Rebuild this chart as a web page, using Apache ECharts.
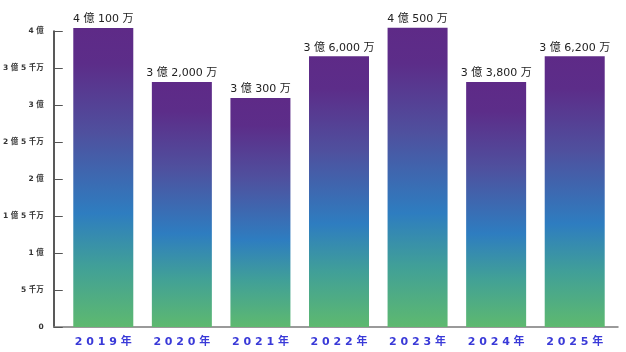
<!DOCTYPE html>
<html>
<head>
<meta charset="utf-8">
<script src="https://cdn.jsdelivr.net/npm/echarts@6/dist/echarts.min.js"></script>
<style>
    html, body { margin: 0; padding: 0; background: #fff; }
    #chart { width: 626px; height: 352px; }
</style>
</head>
<body>
<div id="chart"></div>
<script>
// 年度
const years = ["2019年", "2020年", "2021年", "2022年", "2023年", "2024年", "2025年"];
// 棒の高さ(円)
const values = [404000000, 331000000, 309500000, 366000000, 404500000, 331000000, 366000000];
// 棒の上のラベル
const barLabels = ["4 億 100 万", "3 億 2,000 万", "3 億 300 万", "3 億 6,000 万", "4 億 500 万", "3 億 3,800 万", "3 億 6,200 万"];
// 縦軸の目盛りラベル
const yTickLabels = ["0", "5 千万", "1 億", "1 億 5 千万", "2 億", "2 億 5 千万", "3 億", "3 億 5 千万", "4 億"];

const font = "'DejaVu Sans', 'Noto Sans CJK JP', sans-serif";
const yStep = 50000000;

const myChart = echarts.init(document.getElementById("chart"));

const barColor = {
    type: "linear",
    x: 0, y: 0, x2: 0, y2: 1,
    colorStops: [
        { offset: 0, color: "#5e2a87" },
        { offset: 0.12, color: "#5c2d89" },
        { offset: 0.35, color: "#4f509e" },
        { offset: 0.62, color: "#2e7dc0" },
        { offset: 0.8, color: "#41a097" },
        { offset: 1, color: "#5eb96f" }
    ]
};

myChart.setOption({
    animation: false,
    grid: [
        { left: 49, right: 8, top: 31, bottom: 25 },   // 軸線用
        { left: 64, right: 12, top: 31, bottom: 25 }   // 棒用
    ],
    xAxis: [
        {
            gridIndex: 0,
            type: "category",
            data: [""],
            axisLine: { lineStyle: { color: "#7a7a7a", width: 1.5 } },
            axisTick: { show: false },
            axisLabel: { show: false }
        },
        {
            gridIndex: 1,
            type: "category",
            data: years,
            axisLine: { show: false },
            axisTick: { show: false },
            axisLabel: {
                margin: 10,
                fontFamily: font,
                fontSize: 11,
                fontWeight: "bold",
                color: "#3a3ad8",
                formatter: (v) => v.split("").join(" ")
            }
        }
    ],
    yAxis: [
        {
            gridIndex: 0,
            type: "value",
            min: 0,
            max: 400000000,
            interval: yStep,
            splitLine: { show: false },
            axisLine: { show: true, lineStyle: { color: "#222", width: 1.5 } },
            axisTick: { show: true, inside: true, length: 9, lineStyle: { color: "#555" } },
            axisLabel: {
                margin: 10,
                fontFamily: font,
                fontSize: 7.5,
                fontWeight: "bold",
                color: "#333",
                formatter: (v) => yTickLabels[Math.round(v / yStep)]
            }
        },
        {
            gridIndex: 1,
            type: "value",
            min: 0,
            max: 400000000,
            show: false
        }
    ],
    series: [
        {
            type: "bar",
            xAxisIndex: 1,
            yAxisIndex: 1,
            data: values,
            barWidth: 60,
            clip: false,
            itemStyle: { color: barColor },
            label: {
                show: true,
                position: "top",
                distance: 3,
                fontFamily: font,
                fontSize: 11,
                color: "#222",
                formatter: (p) => barLabels[p.dataIndex]
            }
        }
    ]
});
</script>
</body>
</html>
